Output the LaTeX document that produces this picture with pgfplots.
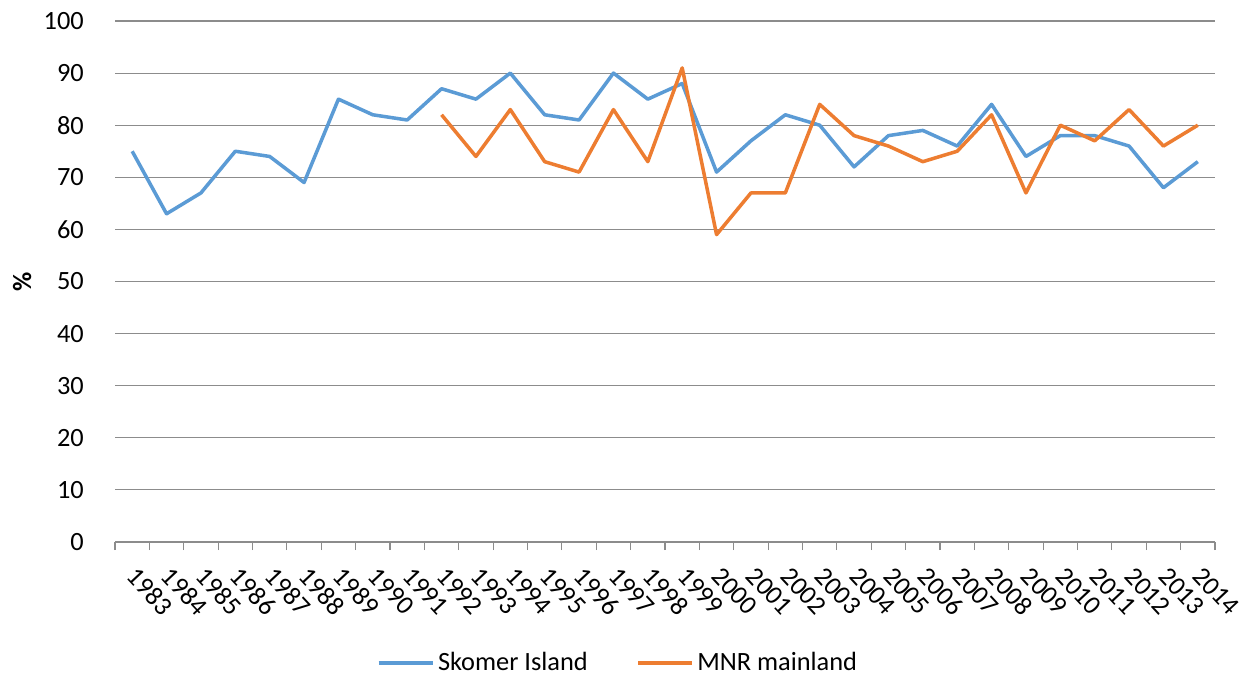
\documentclass[border=0pt]{standalone}
\usepackage{pgfplots}
\pgfplotsset{compat=1.18}
\usepackage{fontspec}
\setmainfont{Carlito}
\definecolor{cblue}{HTML}{5B9BD5}
\definecolor{corange}{HTML}{ED7D31}
\definecolor{cgrid}{HTML}{8C8C8C}
\begin{document}
\begin{tikzpicture}[x=1cm,y=1cm]
\useasboundingbox (0,0) rectangle (24.98,13.5);
\begin{axis}[
  at={(2.3cm,2.66cm)}, anchor=south west,
  scale only axis, width=22cm, height=10.42cm,
  xmin=-0.5, xmax=31.5, ymin=0, ymax=100,
  ytick={0,10,...,100},
  xtick={0,...,31},
  xticklabels={1983,1984,1985,1986,1987,1988,1989,1990,1991,1992,1993,1994,1995,1996,1997,1998,1999,2000,2001,2002,2003,2004,2005,2006,2007,2008,2009,2010,2011,2012,2013,2014},
  minor xtick={-0.5,0.5,...,31.5},
  axis x line*=bottom, axis y line*=left,
  y axis line style={draw=none},
  x axis line style={draw=cgrid, line width=0.6pt, -},
  major x tick style={draw=none},
  minor x tick style={draw=cgrid, line width=0.6pt},
  minor tick length=0.16cm,
  tick align=outside,
  ymajorgrids, major grid style={draw=cgrid, line width=0.6pt},
  ytick style={draw=none},
  xticklabel style={rotate=-47, anchor=north west, font=\fontsize{15}{17}\selectfont, xshift=0.2cm, yshift=0cm},
  yticklabel style={font=\fontsize{15}{17}\selectfont, xshift=-0.35cm},
  /pgf/number format/assume math mode=true,
  ylabel={\textbf{\%}}, ylabel style={font=\fontsize{15}{17}\selectfont, at={(axis description cs:-0.0845,0.5)}, anchor=center},
  legend style={at={(0.458,-0.198)}, anchor=north, draw=none, font=\fontsize{15}{17}\selectfont, legend columns=2, /tikz/every even column/.append style={column sep=0.9cm}},
  legend image code/.code={\draw[#1] (0cm,0cm) -- (1.08cm,0cm);},
  clip=false,
]
\addplot[cblue, line width=2pt, line join=round] coordinates {
(0,75)(1,63)(2,67)(3,75)(4,74)(5,69)(6,85)(7,82)(8,81)(9,87)(10,85)(11,90)(12,82)(13,81)(14,90)(15,85)(16,88)(17,71)(18,77)(19,82)(20,80)(21,72)(22,78)(23,79)(24,76)(25,84)(26,74)(27,78)(28,78)(29,76)(30,68)(31,73)};
\addlegendentry{Skomer Island}
\addplot[corange, line width=2pt, line join=round] coordinates {
(9,82)(10,74)(11,83)(12,73)(13,71)(14,83)(15,73)(16,91)(17,59)(18,67)(19,67)(20,84)(21,78)(22,76)(23,73)(24,75)(25,82)(26,67)(27,80)(28,77)(29,83)(30,76)(31,80)};
\addlegendentry{MNR mainland}
\end{axis}
\end{tikzpicture}
\end{document}
